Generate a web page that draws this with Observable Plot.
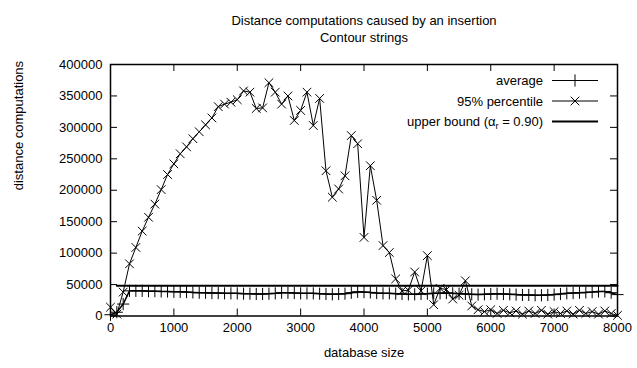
<!DOCTYPE html>
<html><head><meta charset="utf-8">
<script src="https://cdn.jsdelivr.net/npm/d3@7"></script>
<script src="https://cdn.jsdelivr.net/npm/@observablehq/plot@0.6"></script>
<style>body{margin:0;background:#fff} svg{display:block}</style>
</head><body><div id="chart"></div>
<script>
// database sizes
const sizes = [
  0,100,200,300,400,500,600,700,800,900,
  1000,1100,1200,1300,1400,1500,1600,1700,1800,1900,
  2000,2100,2200,2300,2400,2500,2600,2700,2800,2900,
  3000,3100,3200,3300,3400,3500,3600,3700,3800,3900,
  4000,4100,4200,4300,4400,4500,4600,4700,4800,4900,
  5000,5100,5200,5300,5400,5500,5600,5700,5800,5900,
  6000,6100,6200,6300,6400,6500,6600,6700,6800,6900,
  7000,7100,7200,7300,7400,7500,7600,7700,7800,7900,
  8000];
// values in thousands of distance computations
const average = [
  2,6,19,40,40,40,39.5,39.5,39,39,
  38.5,38.5,38,37.5,37,37,36.5,36.5,36,36,
  36,35.5,35.5,35,35,35.5,36,37,37,36.5,
  36,36,36,35.5,35,34.5,35,35.5,37,38.5,
  38,37.5,36.5,36,36,35.5,35,34.5,34.5,35,
  35.5,36,36,36.5,36,35.5,35,34.5,34,34.5,
  35,35.5,35,34.5,34,33.5,33.5,33,33,33.5,
  34,35,36,36.5,37,37.5,38,39,39,37,
  34];
const percentile95 = [
  14,3,38,83,109,135,157,178,201,225,
  242,258,269,282,293,304,315,333,337,340,
  344,358,356,330,331,371,356,337,350,311,
  327,356,303,346,231,189,202,223,287,274,
  125,239,184,112,101,59,40,41,70,40,
  96,18,44,42,27,33,56,16,10,7,
  10,4,9,5,8,3,8,4,9,3,
  7,4,8,3,9,4,7,3,8,4,
  1];
const upperBound = [
  null,48,48,48,48,48,48,48,48,48,
  48,48,48,48,48,48,48,48,48,48,
  48,48,48,48,48,48,48,48,48,48,
  48,48,48,48,48,48,48,48,48,48,
  48,48,48,48,48,48,48,48,48,48,
  48,48,48,48,48,48,48,48,48,48,
  48,48,48,48,48,48,48,48,48,48,
  48,48,48,48,48,48,48,48,48,48,
  48];
const xTicks = [0,1000,2000,3000,4000,5000,6000,7000,8000];
const yTicks = [0,50000,100000,150000,200000,250000,300000,350000,400000];
const titleLines = ["Distance computations caused by an insertion", "Contour strings"];
const xLabel = "database size";
const yLabel = "distance computations";
const legendLabels = ["average", "95% percentile", "upper bound"];

const W = 637, H = 368, mL = 110, mR = 20, mT = 64, mB = 52.5;
const fw = W - mL - mR, fh = H - mT - mB;
const FONT = "'Liberation Sans', Arial, sans-serif";

const rows = sizes.map((s, i) => ({
  size: s,
  avg: average[i] * 1000,
  p95: percentile95[i] * 1000,
  ub: upperBound[i] == null ? null : upperBound[i] * 1000
}));

const chart = Plot.plot({
  width: W, height: H,
  marginLeft: mL, marginRight: mR, marginTop: mT, marginBottom: mB,
  x: {domain: [0, 8000]},
  y: {domain: [0, 400000]},
  style: {fontFamily: FONT, fontSize: "13px", background: "white", color: "black"},
  marks: [
    Plot.line(rows, {x: "size", y: "ub", stroke: "black", strokeWidth: 2}),
    Plot.line(rows, {x: "size", y: "avg", stroke: "black", strokeWidth: 1.5}),
    Plot.dot(rows, {x: "size", y: "avg", symbol: "plus", r: 4, stroke: "black", strokeWidth: 1}),
    Plot.line(rows, {x: "size", y: "p95", stroke: "black", strokeWidth: 1}),
    Plot.dot(rows, {x: "size", y: "p95", symbol: "times", r: 4, stroke: "black", strokeWidth: 1}),
    Plot.ruleX(xTicks, {x: d => d, insetTop: fh - 7, stroke: "black"}),
    Plot.ruleX(xTicks, {x: d => d, insetBottom: fh - 7, stroke: "black"}),
    Plot.ruleY(yTicks, {y: d => d, insetRight: fw - 7, stroke: "black"}),
    Plot.ruleY(yTicks, {y: d => d, insetLeft: fw - 7, stroke: "black"}),
    Plot.frame({stroke: "black", strokeWidth: 1.5}),
    Plot.axisX({ticks: xTicks, tickSize: 0, tickPadding: 7, label: null, tickFormat: d => String(d)}),
    Plot.axisY({ticks: yTicks, tickSize: 0, tickPadding: 8, label: null, tickFormat: d => String(d)}),
    Plot.text([titleLines[0]], {text: d => d, frameAnchor: "top", lineAnchor: "middle", dy: 20 - mT, fill: "black"}),
    Plot.text([titleLines[1]], {text: d => d, frameAnchor: "top", lineAnchor: "middle", dy: 37 - mT, fill: "black"}),
    Plot.text([xLabel], {text: d => d, frameAnchor: "bottom", lineAnchor: "middle", dy: 36.5, fill: "black"}),
    Plot.text([yLabel], {text: d => d, frameAnchor: "left", lineAnchor: "middle", rotate: -90, dx: 18 - mL, fill: "black"})
  ]
});
document.getElementById("chart").appendChild(chart);

// legend (top right, gnuplot style)
const svg = d3.select(chart);
const lg = svg.append("g").attr("font-family", FONT).attr("font-size", 13).attr("fill", "black");
const textRight = 543, sx1 = 552, sx2 = 598, sxm = 575;
legendLabels.forEach((label, i) => {
  const y = 80.5 + i * 20.5;
  const t = lg.append("text").attr("x", textRight).attr("y", y + 4.5).attr("text-anchor", "end");
  if (i === 2) {
    t.append("tspan").text(label + " (α");
    t.append("tspan").attr("dy", 3).attr("font-size", 9).text("r");
    t.append("tspan").attr("dy", -3).text(" = 0.90)");
  } else {
    t.text(label);
  }
  lg.append("line").attr("x1", sx1).attr("x2", sx2).attr("y1", y).attr("y2", y)
    .attr("stroke", "black").attr("stroke-width", i === 2 ? 2 : 1);
  if (i < 2) {
    const sym = d3.symbol(i === 0 ? d3.symbolPlus : d3.symbolTimes, 16 * Math.PI);
    lg.append("path").attr("d", sym()).attr("transform", `translate(${sxm},${y})`)
      .attr("fill", "none").attr("stroke", "black").attr("stroke-width", 1);
  }
});
</script>
</body></html>
